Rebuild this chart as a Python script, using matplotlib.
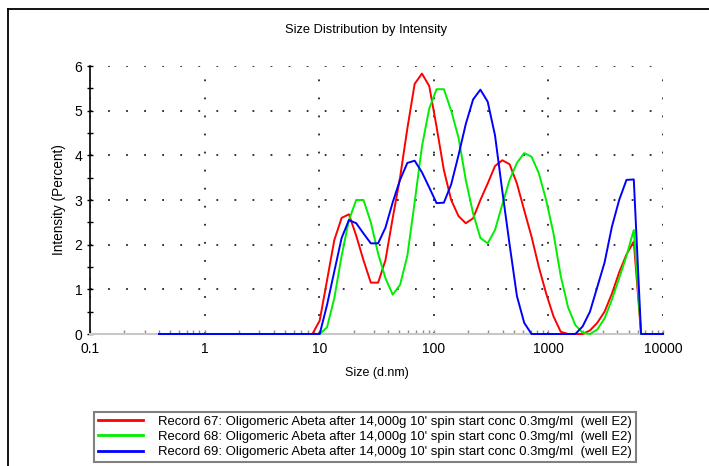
import matplotlib
matplotlib.use("Agg")
import matplotlib.pyplot as plt
from matplotlib.lines import Line2D
from matplotlib.ticker import FixedLocator, LogLocator, NullFormatter

plt.rcParams['font.family'] = ['Liberation Sans', 'DejaVu Sans']

title = "Size Distribution by Intensity"
x_label = "Size (d.nm)"
y_label = "Intensity (Percent)"
x_ticks = [0.1, 1, 10, 100, 1000, 10000]
x_tick_labels = ["0.1", "1", "10", "100", "1000", "10000"]
y_ticks = [0, 1, 2, 3, 4, 5, 6]

# size bins (d.nm)
sizes = [0.4, 0.4632, 0.5365, 0.6213, 0.7195, 0.8332, 0.9649, 1.117, 1.294, 1.499,
         1.736, 2.010, 2.328, 2.696, 3.122, 3.615, 4.187, 4.849, 5.615, 6.503,
         7.531, 8.721, 10.10, 11.70, 13.54, 15.69, 18.17, 21.04, 24.36, 28.21,
         32.67, 37.84, 43.82, 50.75, 58.77, 68.06, 78.82, 91.28, 105.7, 122.4,
         141.8, 164.2, 190.1, 220.2, 255.0, 295.3, 342.0, 396.1, 458.7, 531.2,
         615.1, 712.4, 825.0, 955.4, 1106, 1281, 1484, 1718, 1990, 2305,
         2669, 3091, 3580, 4145, 4801, 5560, 6439, 7456, 8635, 10000]

record67 = [0, 0, 0, 0, 0, 0, 0, 0, 0, 0,
            0, 0, 0, 0, 0, 0, 0, 0, 0, 0,
            0, 0, 0.3, 1.2, 2.1, 2.6, 2.68, 2.2, 1.65, 1.15,
            1.15, 1.65, 2.6, 3.5, 4.6, 5.6, 5.83, 5.55, 4.64, 3.67,
            3.0, 2.64, 2.48, 2.59, 3.0, 3.37, 3.76, 3.89, 3.8, 3.37,
            2.77, 2.18, 1.5, 0.91, 0.4, 0.05, 0, 0, 0, 0.08,
            0.25, 0.5, 0.9, 1.38, 1.78, 2.07, 0, 0, 0, 0]

record68 = [0, 0, 0, 0, 0, 0, 0, 0, 0, 0,
            0, 0, 0, 0, 0, 0, 0, 0, 0, 0,
            0, 0, 0, 0.15, 0.8, 1.75, 2.55, 3.0, 3.0, 2.5,
            1.8, 1.25, 0.88, 1.1, 1.75, 2.95, 4.2, 5.05, 5.48, 5.48,
            5.0, 4.4, 3.45, 2.7, 2.15, 2.03, 2.33, 2.9, 3.45, 3.83,
            4.05, 3.97, 3.6, 3.0, 2.26, 1.3, 0.6, 0.2, 0.03, 0,
            0.1, 0.35, 0.77, 1.25, 1.75, 2.33, 0, 0, 0, 0]

record69 = [0, 0, 0, 0, 0, 0, 0, 0, 0, 0,
            0, 0, 0, 0, 0, 0, 0, 0, 0, 0,
            0, 0, 0, 0.65, 1.4, 2.15, 2.55, 2.48, 2.25, 2.03,
            2.03, 2.38, 2.95, 3.45, 3.83, 3.88, 3.62, 3.28, 2.93, 2.94,
            3.35, 4.0, 4.7, 5.25, 5.47, 5.2, 4.45, 3.2, 2.0, 0.85,
            0.25, 0, 0, 0, 0, 0, 0, 0, 0.17, 0.5,
            1.05, 1.6, 2.4, 3.0, 3.45, 3.46, 0, 0, 0, 0]

labels = ["Record 67: Oligomeric Abeta after 14,000g 10' spin start conc 0.3mg/ml  (well E2)",
          "Record 68: Oligomeric Abeta after 14,000g 10' spin start conc 0.3mg/ml  (well E2)",
          "Record 69: Oligomeric Abeta after 14,000g 10' spin start conc 0.3mg/ml  (well E2)"]
series = [record67, record68, record69]
colors = ["#ff0000", "#00ee00", "#0000ff"]

W, H = 709, 466
fig = plt.figure(figsize=(W / 100, H / 100), dpi=100)
fig.patch.set_facecolor("white")
ax = fig.add_axes([90 / W, 1 - 334 / H, (663 - 90) / W, (334 - 66) / H])

for vals, c, lab in zip(series, colors, labels):
    ax.plot(sizes, vals, color=c, lw=1.4, label=lab, clip_on=False, zorder=3)

ax.set_xscale("log")
ax.set_xlim(0.1, 10000)
ax.set_ylim(0, 6)
ax.set_xticks(x_ticks)
ax.set_xticklabels(x_tick_labels)
ax.xaxis.set_minor_locator(LogLocator(base=10, subs=range(2, 10)))
ax.xaxis.set_minor_formatter(NullFormatter())
ax.set_yticks(y_ticks)
ax.yaxis.set_minor_locator(FixedLocator([0.5, 1.5, 2.5, 3.5, 4.5, 5.5]))

ax.grid(True, which="major", color="#222222", linestyle=(0, (1, 9)), lw=1.3)
ax.set_axisbelow(True)

for s in ("top", "right"):
    ax.spines[s].set_visible(False)
ax.spines["left"].set_color("black")
ax.spines["left"].set_linewidth(1.2)
ax.spines["bottom"].set_color("#c8c8c8")
ax.spines["bottom"].set_linewidth(1.5)

ax.tick_params(axis="y", which="major", direction="inout", length=5, width=1,
               labelsize=10, pad=3, color="black")
ax.tick_params(axis="y", which="minor", direction="inout", length=4, width=1, color="black")
ax.tick_params(axis="x", which="major", direction="in", length=3, width=1,
               labelsize=10, pad=6, color="#888888")
ax.tick_params(axis="x", which="minor", direction="in", length=3, width=1, color="#888888")

fig.text(366 / W, 1 - 30 / H, title, ha="center", va="center", fontsize=9.3)
ax.set_xlabel(x_label, fontsize=9, labelpad=8)
ax.set_ylabel(y_label, fontsize=9.8, labelpad=6)

leg = ax.legend(loc="upper left", bbox_to_anchor=(94 / W, 1 - 411.7 / H),
                bbox_transform=fig.transFigure, borderaxespad=0, fontsize=9.45,
                frameon=True, fancybox=False, edgecolor="#808080", framealpha=1,
                handlelength=3.45, handletextpad=1.15, borderpad=0.3, labelspacing=0.23)
leg.get_frame().set_linewidth(1.5)
for h in leg.get_lines():
    h.set_linewidth(2)

# outer frame (top and left edges)
fig.add_artist(Line2D([8 / W, 1], [1 - 9 / H, 1 - 9 / H], transform=fig.transFigure,
                      color="black", lw=1.3))
fig.add_artist(Line2D([8 / W, 8 / W], [0, 1 - 9 / H], transform=fig.transFigure,
                      color="black", lw=1.3))

fig.savefig("out.png", dpi=100)
